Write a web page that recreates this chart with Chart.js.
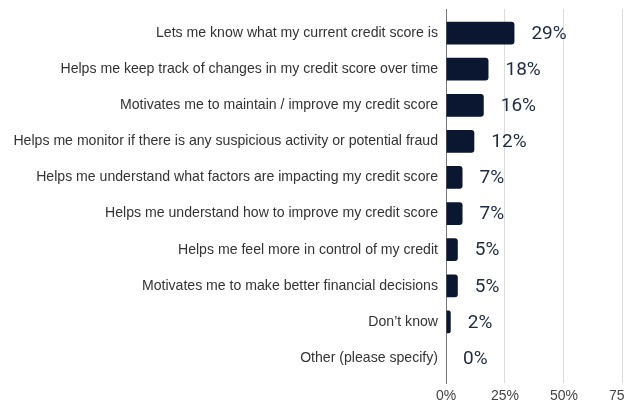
<!DOCTYPE html>
<html>
<head>
<meta charset="utf-8">
<script src="https://cdn.jsdelivr.net/npm/chart.js@4.4.1/dist/chart.umd.min.js"></script>
<style>
  html, body { margin: 0; padding: 0; background: #ffffff; overflow: hidden; }
  #wrap { width: 642px; height: 404px; position: relative; }
</style>
</head>
<body>
<div id="wrap"><canvas id="chart"></canvas></div>
<script>
// Reasons people value knowing their credit score (share of respondents, %)
const categories = [
  "Lets me know what my current credit score is",
  "Helps me keep track of changes in my credit score over time",
  "Motivates me to maintain / improve my credit score",
  "Helps me monitor if there is any suspicious activity or potential fraud",
  "Helps me understand what factors are impacting my credit score",
  "Helps me understand how to improve my credit score",
  "Helps me feel more in control of my credit",
  "Motivates me to make better financial decisions",
  "Don\u2019t know",
  "Other (please specify)"
];
const shares = [29, 18, 16, 12, 7, 7, 5, 5, 2, 0];
const xTicks = [0, 25, 50, 75];

const BAR_COLOR = "#0b1730";
const LABEL_AREA_WIDTH = 446;
const X_AXIS_HEIGHT = 21;

// Bars sit on a numeric index axis so the grid can run slightly past the first and last rows
const points = shares.map((v, i) => ({ x: v, y: i }));

const valueLabels = {
  id: "valueLabels",
  afterDatasetsDraw(chart) {
    const { ctx, scales } = chart;
    ctx.save();
    ctx.font = "19px Roboto, 'Liberation Sans', sans-serif";
    ctx.fillStyle = "#1e2a40";
    ctx.textAlign = "left";
    ctx.textBaseline = "middle";
    shares.forEach((v, i) => {
      const x = scales.x.getPixelForValue(v) + 17;
      const y = scales.y.getPixelForValue(i);
      ctx.fillText(v + "%", x, y + 1);
    });
    ctx.restore();
  }
};

new Chart(document.getElementById("chart"), {
  type: "bar",
  data: {
    datasets: [{
      data: points,
      backgroundColor: BAR_COLOR,
      borderRadius: 3,
      borderSkipped: "start",
      categoryPercentage: 1,
      barPercentage: 0.63
    }]
  },
  options: {
    indexAxis: "y",
    responsive: true,
    maintainAspectRatio: false,
    animation: false,
    layout: { padding: { top: 9, left: 0, right: 0, bottom: 0 } },
    plugins: {
      legend: { display: false },
      tooltip: { enabled: false }
    },
    scales: {
      x: {
        type: "linear",
        min: 0,
        max: 75,
        afterBuildTicks(scale) { scale.ticks = xTicks.map(v => ({ value: v })); },
        afterFit(scale) { scale.height = X_AXIS_HEIGHT; },
        grid: { color: "#dcdcdc", lineWidth: 1, drawTicks: false },
        border: { display: false },
        ticks: {
          padding: 5,
          color: "#444444",
          font: { family: "'Liberation Sans', Arial, sans-serif", size: 14 },
          callback: v => v + "%"
        }
      },
      y: {
        type: "linear",
        reverse: true,
        offset: false,
        min: -0.665,
        max: 9.69,
        afterBuildTicks(scale) { scale.ticks = categories.map((c, i) => ({ value: i })); },
        afterFit(scale) {
          scale.width = LABEL_AREA_WIDTH;
          scale.paddingTop = 0;
          scale.paddingBottom = 0;
        },
        grid: { display: false, drawTicks: false },
        border: { display: true, color: "#777777", width: 1 },
        ticks: {
          padding: 8,
          color: "#333333",
          font: { family: "'Liberation Sans', Arial, sans-serif", size: 14.1 },
          callback: v => categories[v] ?? ""
        }
      }
    }
  },
  plugins: [valueLabels]
});
</script>
</body>
</html>
